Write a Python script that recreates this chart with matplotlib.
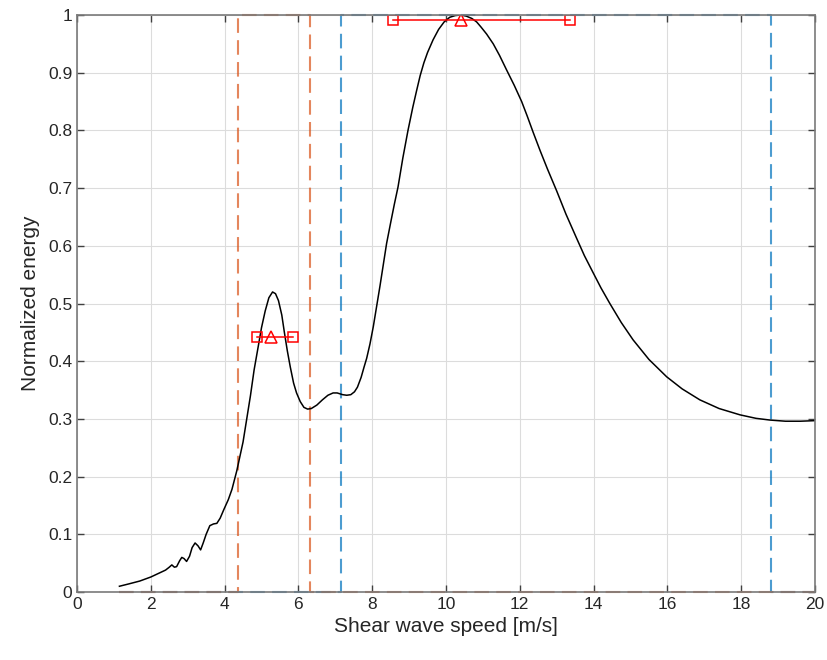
import numpy as np
import matplotlib
matplotlib.use("Agg")
import matplotlib.pyplot as plt

plt.rcParams['font.family'] = ['Liberation Sans', 'DejaVu Sans']

# normalized energy curve
speed = [1.15, 1.4, 1.7, 2.0, 2.2, 2.4, 2.5, 2.57, 2.64, 2.7, 2.78, 2.84, 2.9, 2.97,
         3.05, 3.12, 3.2, 3.28, 3.35, 3.42, 3.5, 3.6, 3.7, 3.79, 3.88, 3.98, 4.1, 4.2,
         4.33, 4.5, 4.6, 4.7, 4.8, 4.91, 5.0, 5.1, 5.2, 5.3, 5.38, 5.46, 5.55, 5.62,
         5.7, 5.78, 5.87, 5.95, 6.05, 6.15, 6.25, 6.35, 6.5, 6.65, 6.8, 6.94, 7.05,
         7.2, 7.31, 7.42, 7.52, 7.6, 7.7, 7.78, 7.85, 7.94, 8.03, 8.12, 8.21, 8.3,
         8.39, 8.5, 8.6, 8.7, 8.83, 8.97, 9.1, 9.2, 9.3, 9.4, 9.5, 9.65, 9.8, 9.95,
         10.1, 10.25, 10.4, 10.55, 10.7, 10.83, 10.95, 11.1, 11.28, 11.45, 11.64,
         11.85, 12.05, 12.2, 12.36, 12.55, 12.75, 13.0, 13.25, 13.54, 13.75, 13.99,
         14.2, 14.44, 14.75, 15.07, 15.5, 15.98, 16.4, 16.88, 17.4, 17.97, 18.4,
         18.78, 19.2, 19.6, 20.0]
energy = [0.010, 0.014, 0.019, 0.026, 0.032, 0.038, 0.043, 0.047, 0.043, 0.044, 0.054,
          0.060, 0.058, 0.053, 0.062, 0.077, 0.085, 0.080, 0.073, 0.085, 0.100, 0.115,
          0.118, 0.119, 0.128, 0.143, 0.160, 0.178, 0.210, 0.260, 0.300, 0.340, 0.385,
          0.425, 0.458, 0.487, 0.510, 0.520, 0.517, 0.505, 0.480, 0.450, 0.418, 0.390,
          0.362, 0.345, 0.330, 0.320, 0.317, 0.318, 0.324, 0.333, 0.341, 0.345, 0.345,
          0.342, 0.341, 0.342, 0.347, 0.355, 0.372, 0.390, 0.405, 0.430, 0.460, 0.495,
          0.530, 0.567, 0.604, 0.640, 0.672, 0.702, 0.752, 0.800, 0.840, 0.868, 0.895,
          0.917, 0.935, 0.957, 0.975, 0.988, 0.996, 0.999, 1.000, 0.998, 0.994, 0.988,
          0.979, 0.967, 0.950, 0.930, 0.905, 0.878, 0.850, 0.825, 0.797, 0.765, 0.733,
          0.695, 0.655, 0.613, 0.583, 0.553, 0.527, 0.500, 0.467, 0.437, 0.403, 0.373,
          0.352, 0.333, 0.318, 0.307, 0.301, 0.298, 0.296, 0.296, 0.297]

# band masks (dashed step lines)
band1_x = [1.15, 4.35, 4.35, 6.32, 6.32, 20.0]
band1_y = [0, 0, 1, 1, 0, 0]
band2_x = [1.15, 7.15, 7.15, 18.8, 18.8, 20.0]
band2_y = [0, 0, 1, 1, 0, 0]

# peak markers: centre and width
peak_y = [0.442, 0.991]
peak_center = [5.26, 10.4]
peak_left = [4.88, 8.56]
peak_right = [5.85, 13.36]

fig = plt.figure(figsize=(8.27, 6.6), dpi=100)
ax = fig.add_axes([0.0931, 0.103, 0.8924, 0.8743])

blue = '#0072BD'
orange = '#D95319'

ax.plot(band2_x, band2_y, color=blue, ls=(0, (7, 3.5)), lw=1.5, alpha=0.7, clip_on=False)
ax.plot(band1_x, band1_y, color=orange, ls=(0, (7, 3.5)), lw=1.5, alpha=0.7, clip_on=False)
ax.plot(speed, energy, color='black', lw=1.1)

for yv, c, l, r in zip(peak_y, peak_center, peak_left, peak_right):
    ax.plot([l, r], [yv, yv], color='red', lw=1.1)
    ax.plot([l, r], [yv, yv], ls='none', marker='s', ms=7, mfc='none', mec='red', mew=1.1)
    ax.plot([c], [yv], ls='none', marker='^', ms=8, mfc='none', mec='red', mew=1.1)

ax.set_xlim(0, 20)
ax.set_ylim(0, 1)
ax.set_xticks(np.arange(0, 21, 2))
ax.set_yticks(np.arange(0, 1.01, 0.1))
ax.set_yticklabels(['0', '0.1', '0.2', '0.3', '0.4', '0.5', '0.6', '0.7', '0.8', '0.9', '1'])
ax.grid(True, color='#dcdcdc', lw=0.8)
ax.set_axisbelow(True)
ax.tick_params(direction='in', top=True, right=True, length=5, width=1, colors='#404040',
               labelsize=12.5, labelcolor='#262626')
for s in ax.spines.values():
    s.set_color('#7a7a7a')
    s.set_linewidth(1.2)
ax.set_xlabel('Shear wave speed [m/s]', fontsize=15, color='#262626', labelpad=4)
ax.set_ylabel('Normalized energy', fontsize=15, color='#262626', labelpad=6)

fig.savefig('out.png', dpi=100)
